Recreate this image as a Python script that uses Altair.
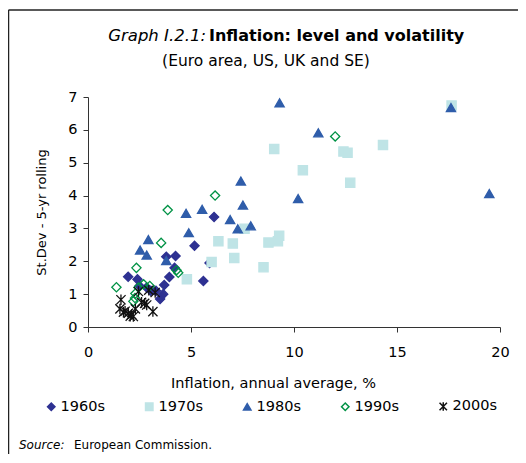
import altair as alt
import pandas as pd

decades = ["1960s", "1970s", "1980s", "1990s", "2000s"]

x1960 = [1.95, 2.4, 2.5, 2.85, 3.05, 3.3, 3.5, 3.65, 3.7, 3.95, 4.2, 3.8, 4.25, 5.17, 5.6, 5.9, 6.12]
y1960 = [1.53, 1.45, 1.25, 1.2, 1.1, 1.1, 0.85, 1.0, 1.28, 1.52, 1.8, 2.14, 2.16, 2.47, 1.4, 1.95, 3.35]

x1970 = [4.8, 6.0, 6.33, 7.03, 7.1, 7.6, 8.52, 8.76, 9.22, 9.28, 9.04, 10.43, 12.4, 12.6, 12.73, 14.32, 17.65]
y1970 = [1.45, 1.98, 2.61, 2.54, 2.1, 2.99, 1.82, 2.57, 2.61, 2.78, 5.42, 4.77, 5.34, 5.3, 4.39, 5.54, 6.74]

x1980 = [2.53, 2.85, 2.93, 3.8, 4.76, 4.89, 5.54, 6.9, 7.27, 7.42, 7.52, 7.9, 9.3, 10.2, 11.18, 17.62, 19.48]
y1980 = [2.34, 2.19, 2.66, 2.02, 3.46, 2.87, 3.58, 3.27, 2.99, 4.44, 3.71, 3.08, 6.82, 3.91, 5.91, 6.68, 4.06]

x1990 = [1.38, 2.2, 2.28, 2.3, 2.45, 2.7, 3.0, 2.35, 3.55, 3.87, 4.3, 4.38, 6.17, 12.0]
y1990 = [1.21, 0.78, 0.88, 1.02, 1.2, 1.3, 1.25, 1.8, 2.56, 3.56, 1.73, 1.65, 4.0, 5.8]

x2000 = [1.6, 1.55, 1.72, 1.8, 1.96, 2.05, 2.2, 2.12, 2.45, 2.6, 2.75, 2.85, 2.95, 3.15, 3.26, 2.3]
y2000 = [0.83, 0.55, 0.45, 0.48, 0.42, 0.33, 0.32, 0.38, 1.08, 0.75, 0.72, 0.67, 1.12, 0.47, 1.05, 0.55]

x_ticks = [0, 5, 10, 15, 20]
y_ticks = [0, 1, 2, 3, 4, 5, 6, 7]

title_italic = ["Graph I.2.1:"]
title_bold = ["Inflation: level and volatility"]
subtitle = ["(Euro area, US, UK and SE)"]
source_italic = ["Source:"]
source_text = ["European Commission."]
x_title = "Inflation, annual average, %"
y_title = "St.Dev - 5-yr rolling"

rows = []
for name, xs, ys in zip(decades, [x1960, x1970, x1980, x1990, x2000],
                        [y1960, y1970, y1980, y1990, y2000]):
    for a, b in zip(xs, ys):
        rows.append({"decade": name, "inflation": a, "stdev": b})
df = pd.DataFrame(rows)

shapes = ["diamond", "square", "triangle-up", "diamond",
          "M-1,-1L1,1M1,-1L-1,1M0,-1.15L0,1.15"]
fills = ["#2E3192", "#BFE4E6", "#2F5DAA", "transparent", "transparent"]
strokes = ["#2E3192", "#BFE4E6", "#2F5DAA", "#009245", "#111111"]

FONT = "DejaVu Sans"

points = alt.Chart(df).mark_point(size=85, strokeWidth=1.3, opacity=1).encode(
    x=alt.X("inflation:Q",
            scale=alt.Scale(domain=[0, 20], nice=False, zero=True),
            axis=alt.Axis(values=x_ticks, title=x_title, labelPadding=13,
                          labelFlush=False,
                          titleX=185, titleY=60, titleAlign="center",
                          titleBaseline="alphabetic", titleFontSize=14.5)),
    y=alt.Y("stdev:Q",
            scale=alt.Scale(domain=[0, 7], nice=False),
            axis=alt.Axis(values=y_ticks, title=y_title, labelPadding=6,
                          labelFlush=False,
                          titleAngle=-90, titleX=-43, titleY=115,
                          titleAlign="center", titleBaseline="alphabetic",
                          titleFontSize=13)),
    shape=alt.Shape("decade:N", scale=alt.Scale(domain=decades, range=shapes),
                    legend=alt.Legend(title=None)),
    fill=alt.Fill("decade:N", scale=alt.Scale(domain=decades, range=fills),
                  legend=alt.Legend(title=None)),
    stroke=alt.Stroke("decade:N", scale=alt.Scale(domain=decades, range=strokes),
                      legend=alt.Legend(title=None)),
    order=alt.Order("order_idx:Q"),
).transform_calculate(
    order_idx="indexof(['1960s','1970s','1980s','1990s','2000s'], datum.decade)"
)


def text_layer(values, x, y, align, size, weight="normal", style="normal"):
    return alt.Chart(pd.DataFrame({"t": values})).mark_text(
        align=align, baseline="alphabetic", font=FONT, fontSize=size,
        fontWeight=weight, fontStyle=style, color="black"
    ).encode(text="t:N", x=alt.value(x), y=alt.value(y))


t1 = text_layer(title_italic, 118, -56, "right", 16.5, style="italic")
t2 = text_layer(title_bold, 121, -56, "left", 16, weight="bold")
t3 = text_layer(subtitle, 178, -31, "center", 15.5)
t4 = text_layer(source_italic, -69, 352, "left", 12, style="italic")
t5 = text_layer(source_text, -14, 352, "left", 12)

frame_df = pd.DataFrame({"k": [0]})
frame_top = alt.Chart(frame_df).mark_rule(color="#222222", strokeWidth=1.5).encode(
    x=alt.value(-79.5), x2=alt.value(430), y=alt.value(-87))
frame_left = alt.Chart(frame_df).mark_rule(color="#222222", strokeWidth=1.5).encode(
    x=alt.value(-79.5), y=alt.value(-87), y2=alt.value(365))

chart = alt.layer(points, t1, t2, t3, t4, t5, frame_top, frame_left).properties(
    width=412, height=230,
    autosize=alt.AutoSizeParams(type="none"),
    padding={"left": 80, "top": 89, "right": 18, "bottom": 127},
).configure_view(stroke=None).configure_axis(
    grid=False, domainColor="#333333", tickColor="#333333", tickSize=5,
    labelColor="black", labelFont=FONT, labelFontSize=14.5,
    titleFont=FONT, titleFontWeight="normal", titleColor="black",
).configure_legend(
    orient="none", legendX=-44, legendY=302, direction="horizontal",
    columns=5, columnPadding=37, labelFont=FONT, labelFontSize=14.5,
    labelColor="black", symbolSize=55, symbolStrokeWidth=1.5, labelOffset=2,
    symbolOpacity=1,
)

chart.save("out.html", embed_options={"renderer": "svg", "actions": False})
